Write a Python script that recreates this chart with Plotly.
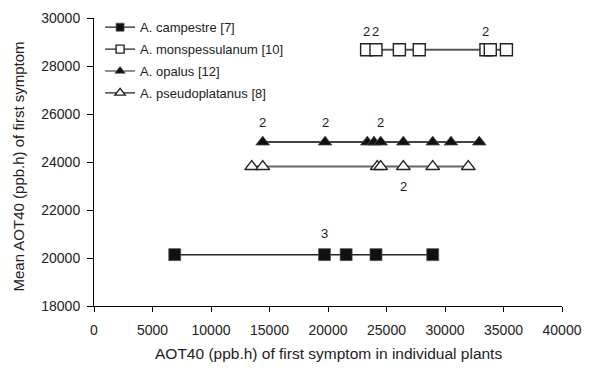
import plotly.graph_objects as go

# Data: unique AOT40 values of individual plants (x), number of plants at that value, species mean (y)
species = ["A. campestre [7]", "A. monspessulanum [10]", "A. opalus [12]", "A. pseudoplatanus [8]"]
campestre_x = [6900, 19700, 21550, 24100, 28950]
campestre_n = [1, 3, 1, 1, 1]
campestre_y = 20140
monsp_x = [23300, 24100, 26100, 27800, 33500, 33870, 35250]
monsp_n = [2, 2, 1, 1, 2, 1, 1]
monsp_y = 28680
opalus_x = [14420, 19750, 23360, 23930, 24500, 26440, 28950, 30510, 32930]
opalus_n = [2, 2, 1, 1, 2, 1, 1, 1, 1]
opalus_y = 24830
pseudo_x = [13480, 14420, 24210, 24500, 26440, 28950, 31990]
pseudo_n = [1, 1, 1, 1, 2, 1, 1]
pseudo_y = 23810

x_ticks = [0, 5000, 10000, 15000, 20000, 25000, 30000, 35000, 40000]
y_ticks = [18000, 20000, 22000, 24000, 26000, 28000, 30000]
x_title = "AOT40 (ppb.h) of first symptom in individual plants"
y_title = "Mean AOT40 (ppb.h) of first symptom"

# name, x, counts, y, symbol, filled, line colour, line width, marker size, legend marker size, label shift
series = [
    (species[0], campestre_x, campestre_n, campestre_y, "square", True, "#222222", 1.5, 12, 8, 21),
    (species[1], monsp_x, monsp_n, monsp_y, "square", False, "#555555", 2, 12, 8, 18),
    (species[2], opalus_x, opalus_n, opalus_y, "triangle-up", True, "#444444", 2, 12, 9, 20),
    (species[3], pseudo_x, pseudo_n, pseudo_y, "triangle-up", False, "#666666", 2, 12, 9, -20),
]

fig = go.Figure()
annotations = []
for i, (name, xs, ns, yv, sym, filled, lcol, lw, msz, lgsz, shift) in enumerate(series):
    def mk(size):
        if filled:
            return dict(symbol=sym, size=size, color="#111111", line=dict(color="#555555", width=0.7))
        return dict(symbol=sym, size=size, color="white", line=dict(color="#222222", width=1.4))
    fig.add_trace(go.Scatter(
        x=xs, y=[yv] * len(xs), mode="lines+markers", name=name, showlegend=False,
        line=dict(color=lcol, width=lw), marker=mk(msz), hoverinfo="skip",
    ))
    # legend-only entry with smaller symbol
    fig.add_trace(go.Scatter(
        x=[None], y=[None], mode="lines+markers", name=name, legendgroup=f"g{i}",
        line=dict(color="#222222", width=1.2), marker=mk(lgsz),
    ))
    for xv, n in zip(xs, ns):
        if n > 1:
            annotations.append(dict(x=xv, y=yv, text=str(n), showarrow=False,
                                    yshift=shift, font=dict(size=13, color="#222222")))

annotations.append(dict(text=x_title, xref="paper", yref="paper", x=0.5, y=-0.165,
                        xanchor="center", yanchor="middle", showarrow=False,
                        font=dict(size=15.5, color="#222222")))
annotations.append(dict(text=y_title, xref="paper", yref="paper", x=-0.162, y=0.485,
                        xanchor="center", yanchor="middle", showarrow=False, textangle=-90,
                        font=dict(size=15, color="#222222")))

fig.update_layout(
    width=596, height=368,
    margin=dict(l=94, r=34, t=16, b=62),
    paper_bgcolor="white", plot_bgcolor="white",
    font=dict(family="Liberation Sans, Arial, sans-serif", size=14, color="#222222"),
    showlegend=True,
    legend=dict(x=0.013, y=1.02, xanchor="left", yanchor="top", bgcolor="rgba(0,0,0,0)",
                font=dict(size=13), tracegroupgap=2, traceorder="grouped"),
    annotations=annotations,
    xaxis=dict(range=[0, 40000], tickvals=x_ticks, ticktext=[str(v) for v in x_ticks],
               showgrid=False, zeroline=False, showline=True, linecolor="black", linewidth=1,
               ticks="outside", ticklen=5, tickcolor="black", ticklabelstandoff=6,
               tickfont=dict(size=14), automargin=False),
    yaxis=dict(range=[18000, 30000], tickvals=y_ticks, ticktext=[str(v) for v in y_ticks],
               showgrid=False, zeroline=False, showline=True, linecolor="black", linewidth=1,
               ticks="outside", ticklen=6, tickcolor="black", ticklabelstandoff=4,
               tickfont=dict(size=14), automargin=False),
)

fig.write_html("out.html", config={"displayModeBar": False},
               post_script="document.body.style.margin='0';document.body.style.overflow='hidden';")
